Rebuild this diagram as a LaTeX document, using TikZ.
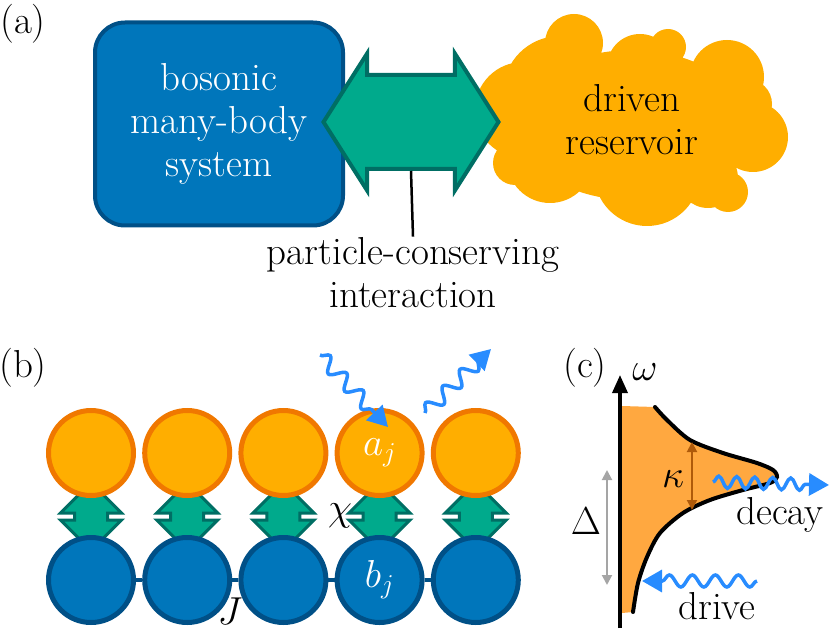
\RequirePackage{fix-cm}
\documentclass[tikz,border=0pt]{standalone}
\usetikzlibrary{arrows.meta,calc,shapes.arrows,decorations.pathmorphing,backgrounds}
\definecolor{bosblue}{RGB}{0,118,187}
\definecolor{bosdark}{RGB}{0,80,135}
\definecolor{resorange}{RGB}{255,174,0}
\definecolor{resedge}{RGB}{240,120,0}
\definecolor{cplteal}{RGB}{0,170,140}
\definecolor{cpldark}{RGB}{0,110,100}
\definecolor{phblue}{RGB}{40,140,255}
\definecolor{specorange}{RGB}{255,168,64}
\definecolor{kapbrown}{RGB}{175,90,10}
\definecolor{delgray}{RGB}{165,165,165}

\begin{document}
\begin{tikzpicture}[x=1pt, y=-1pt,
      txt/.style={font=\fontsize{39}{43}\selectfont, inner sep=1pt, align=center},
      sysbox/.style={txt, rounded corners=30pt, draw=bosdark, fill=bosblue, line width=4pt, text=white, minimum width=248pt, minimum height=203pt},
      cplarrow/.style={double arrow, draw=cpldark, fill=cplteal, line width=4pt, inner xsep=0pt, inner ysep=45pt, double arrow head extend=21.5pt, double arrow tip angle=115, minimum height=175pt},
      minicpl/.style={double arrow, draw=cpldark, fill=cplteal, line width=3pt, inner xsep=0pt, inner ysep=15pt, double arrow head extend=14pt, double arrow tip angle=90, minimum height=68pt, rotate=90},
      acirc/.style={circle, draw=resedge, fill=resorange, line width=5pt, minimum size=85pt, inner sep=0pt, text=white, font=\fontsize{39}{43}\selectfont},
      bcirc/.style={circle, draw=bosdark, fill=bosblue, line width=5pt, minimum size=85pt, inner sep=0pt, text=white, font=\fontsize{39}{43}\selectfont},
      link/.style={draw=bosdark, line width=4pt},
      photon/.style={draw=phblue, line width=3.5pt, decorate, decoration={snake, amplitude=6pt, segment length=20pt, post length=16pt}, -{Triangle[length=20pt, width=22pt]}},
      axis/.style={line width=3.5pt, -{Triangle[length=18pt, width=15pt]}},
      gap/.style={line width=2pt, {Triangle[length=10pt, width=10pt]}-{Triangle[length=10pt, width=10pt]}}
    ]
      \useasboundingbox (0,0) rectangle (830,631);

      % (a) system -- coupling -- reservoir
      \node[txt] (laba) at (23,24) {(a)};
      \node[sysbox] (sys) at (219,124) {bosonic\\many-body\\system};
      % cloud made of puffs
      \fill[resorange] (632,125) ellipse [x radius=115, y radius=75]
        (574,43) circle (29) (640,67) circle (33) (668,47) circle (18)
        (727,77) circle (37) (747,104) circle (25) (753,137) circle (35)
        (708,178) circle (30) (728,192) circle (20) (647,173) circle (53)
        (550,160) circle (43) (515,163) circle (22) (523,110) circle (48)
        (560,93) circle (57);
      \node[txt] (res) at (632,120) {driven\\reservoir};
      \node[cplarrow] (coup) at (411,122) {};
      \node[txt] (cpltext) at (413,273) {particle-conserving\\interaction};
      \draw[line width=2.5pt] (coup.south) -- (cpltext.north);

      % (b) chain of sites
      \node[txt] (labb) at (23,368) {(b)};
      \foreach \i in {1,...,5} {
        \node[acirc] (a\i) at ({91+96.2*(\i-1)},453) {};
        \node[bcirc] (b\i) at ({91+96.2*(\i-1)},580) {};
      }
      \begin{pgfonlayer}{background}
        \foreach \i in {1,...,5}
          \node[minicpl] (c\i) at ($(a\i)!0.5!(b\i)$) {};
      \end{pgfonlayer}
      \foreach \i/\j in {1/2,2/3,3/4,4/5}
        \draw[link] (b\i) -- (b\j);
      \node[text=white, font=\fontsize{39}{43}\selectfont] at (a4) {$a_j$};
      \node[text=white, font=\fontsize{39}{43}\selectfont] at (b4) {$b_j$};
      \node[txt] (chi) at (340,516) {$\chi$};
      \node[txt] (hopJ) at (230,611) {$J$};
      \coordinate (inA) at (320,355);
      \coordinate (inB) at (388,427);
      \coordinate (outA) at (425,413);
      \coordinate (outB) at (491,349);
      \draw[photon, decoration={segment length=24pt, amplitude=7pt}] (inA) -- (inB);
      \draw[photon, decoration={segment length=24pt, amplitude=7pt}] (outA) -- (outB);

      % (c) reservoir spectrum
      \node[txt] (labc) at (585,368) {(c)};
      \def\speccurve{(655,407) (667,420) (690,440) (723,453) (757,463) (773,470) (777,477) (770,483) (743,490) (710,500) (683,513) (660,533) (647,557) (638,583) (633,612)}
      \fill[specorange] (622,406) -- plot[smooth] coordinates {\speccurve} -- (622,613) -- cycle;
      \draw[line width=4pt, line cap=round] plot[smooth] coordinates {\speccurve};
      \coordinate (w0) at (620,628);
      \coordinate (w1) at (620,375);
      \draw[axis] (w0) -- (w1);
      \node[txt] (omg) at (645,372) {$\omega$};
      \coordinate (k0) at (692,442);
      \coordinate (k1) at (692,510);
      \draw[gap, kapbrown] (k0) -- (k1);
      \node[txt] (kap) at (673,479) {$\kappa$};
      \coordinate (d0) at (607,470);
      \coordinate (d1) at (607,585);
      \draw[gap, delgray] (d0) -- (d1);
      \node[txt] (del) at (586,521) {$\Delta$};
      \coordinate (decA) at (713,482);
      \coordinate (decB) at (829,485);
      \draw[photon, decoration={segment length=18pt}] (decA) -- (decB);
      \node[txt] (dectext) at (780,515) {decay};
      \coordinate (drvA) at (757,581);
      \coordinate (drvB) at (642,581);
      \draw[photon, decoration={segment length=23pt}] (drvA) -- (drvB);
      \node[txt] (drvtext) at (717,606) {drive};
    \end{tikzpicture}
\end{document}
